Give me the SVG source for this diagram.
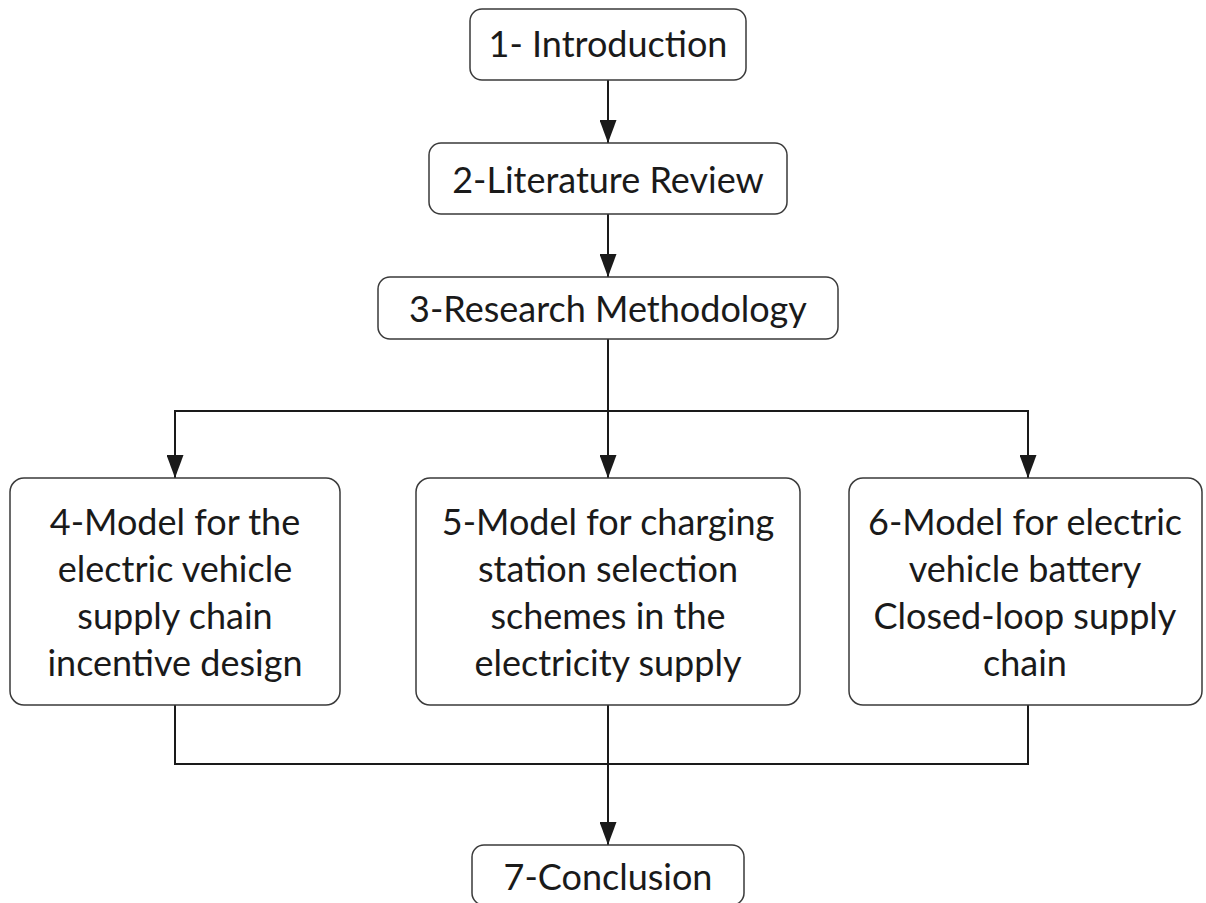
<svg xmlns="http://www.w3.org/2000/svg" width="1206" height="903" viewBox="0 0 1206 903">
<style>
.box{fill:#fff;stroke:#3a3a3a;stroke-width:1.5}
.t{font-family:Lato,"Open Sans","Liberation Sans",sans-serif;font-size:36px;fill:#1a1a1a;text-anchor:middle}
.c{fill:none;stroke:#1a1a1a;stroke-width:2}
</style>
<defs>
<marker id="ah" markerWidth="23" markerHeight="17" refX="23" refY="8.5" orient="auto" markerUnits="userSpaceOnUse" viewBox="0 0 23 17">
<path d="M0,0 L23,8.5 L0,17 Z" fill="#1a1a1a"/>
</marker>
</defs>
<rect width="1206" height="903" fill="#fff"/>
<g id="connectors">
<line class="c" x1="608" y1="80" x2="608" y2="143" marker-end="url(#ah)"/>
<line class="c" x1="608" y1="214" x2="608" y2="277" marker-end="url(#ah)"/>
<line class="c" x1="608" y1="339" x2="608" y2="411"/>
<polyline class="c" points="175,430 175,411 1028,411 1028,430"/>
<line class="c" x1="175" y1="420" x2="175" y2="478" marker-end="url(#ah)"/>
<line class="c" x1="608" y1="411" x2="608" y2="478" marker-end="url(#ah)"/>
<line class="c" x1="1028" y1="420" x2="1028" y2="478" marker-end="url(#ah)"/>
<polyline class="c" points="175,705 175,764 1028,764 1028,705"/>
<line class="c" x1="608" y1="705" x2="608" y2="845" marker-end="url(#ah)"/>
</g>
<g id="n1"><rect class="box" x="470" y="9" width="276" height="71" rx="12"/><text class="t" x="608" y="57">1- Introduction</text></g>
<g id="n2"><rect class="box" x="429" y="143" width="358" height="71" rx="12"/><text class="t" x="608" y="193">2-Literature Review</text></g>
<g id="n3"><rect class="box" x="378" y="277" width="460" height="62" rx="12"/><text class="t" x="608" y="322">3-Research Methodology</text></g>
<g id="n4"><rect class="box" x="10" y="478" width="330" height="227" rx="14"/>
<text class="t" x="175" y="535">4-Model for the</text>
<text class="t" x="175" y="582">electric vehicle</text>
<text class="t" x="175" y="629">supply chain</text>
<text class="t" x="175" y="676">incentive design</text></g>
<g id="n5"><rect class="box" x="416" y="478" width="384" height="227" rx="14"/>
<text class="t" x="608" y="535">5-Model for charging</text>
<text class="t" x="608" y="582">station selection</text>
<text class="t" x="608" y="629">schemes in the</text>
<text class="t" x="608" y="676">electricity supply</text></g>
<g id="n6"><rect class="box" x="849" y="478" width="353" height="227" rx="14"/>
<text class="t" x="1025" y="535">6-Model for electric</text>
<text class="t" x="1025" y="582">vehicle battery</text>
<text class="t" x="1025" y="629">Closed-loop supply</text>
<text class="t" x="1025" y="676">chain</text></g>
<g id="n7"><rect class="box" x="472" y="845" width="272" height="60" rx="12"/><text class="t" x="608" y="890">7-Conclusion</text></g>
</svg>
